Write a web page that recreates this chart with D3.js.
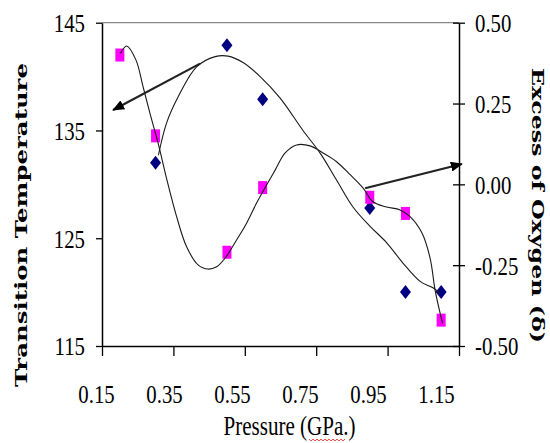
<!DOCTYPE html>
<html>
<head>
<meta charset="utf-8">
<script src="https://cdn.jsdelivr.net/npm/d3@7"></script>
<style>
  html, body { margin: 0; padding: 0; background: #fff; }
  svg { display: block; }
</style>
</head>
<body>
<svg id="chart" width="550" height="443"></svg>
<script>
// ---------- data ----------
const xTicks = [0.15, 0.35, 0.55, 0.75, 0.95, 1.15];
const leftTicks = [115, 125, 135, 145];
const rightTicks = [-0.5, -0.25, 0, 0.25, 0.5];

// Transition temperature (blue diamonds, left axis)
const tempPressure = [0.3, 0.5, 0.6, 0.9, 1.0, 1.1];
const temperature = [132.0, 142.9, 137.9, 127.8, 120.0, 120.0];

// Excess of oxygen (magenta squares, right axis)
const oxyPressure = [0.2, 0.3, 0.5, 0.6, 0.9, 1.0, 1.1];
const oxygen = [0.40, 0.15, -0.21, -0.01, -0.04, -0.09, -0.42];

// Smoothed guide curves
const tempFitP = [0.308, 0.331, 0.363, 0.415, 0.467, 0.503, 0.545, 0.593, 0.649, 0.713, 0.761, 0.807, 0.853, 0.901, 0.947, 0.993, 1.041, 1.077, 1.097];
const tempFitV = [132.7, 135.7, 138.1, 140.9, 141.85, 141.9, 141.3, 140.0, 138.0, 135.0, 132.9, 130.4, 127.9, 126.1, 124.6, 122.7, 121.0, 120.4, 119.9];
const oxyFitP = [0.202, 0.219, 0.245, 0.265, 0.284, 0.307, 0.332, 0.359, 0.387, 0.419, 0.447, 0.471, 0.495, 0.527, 0.555, 0.583, 0.611, 0.635, 0.663, 0.695, 0.733, 0.769, 0.807, 0.845, 0.881, 0.909, 0.947, 0.985, 1.013, 1.046, 1.069, 1.083, 1.097, 1.104];
const oxyFitV = [0.405, 0.428, 0.385, 0.302, 0.221, 0.128, 0.013, -0.100, -0.193, -0.249, -0.262, -0.255, -0.228, -0.172, -0.120, -0.058, -0.002, 0.044, 0.097, 0.122, 0.119, 0.097, 0.070, 0.030, -0.011, -0.054, -0.070, -0.079, -0.100, -0.150, -0.228, -0.327, -0.398, -0.429];

// Annotation arrows [pressure, value]
const arrowTemp = [[0.4245, 141.2], [0.181, 136.9]];   // points to left axis
const arrowOxy = [[0.887, -0.012], [1.158, 0.063]];    // points to right axis

// ---------- layout ----------
const W = 550, H = 443;
const plot = { left: 102, right: 459, top: 22.7, bottom: 346 };
const sx = 0.8; // horizontal squeeze of serif text

const svg = d3.select("#chart");

const x = d3.scaleLinear().domain([0.15, 1.15]).range([plot.left, plot.right]);
const xLabel = d3.scaleLinear().domain([0.15, 1.15]).range([96, 436]);
const yL = d3.scaleLinear().domain([115, 145]).range([plot.bottom, plot.top]);
const yR = d3.scaleLinear().domain([-0.5, 0.5]).range([plot.bottom, plot.top]);

// top frame line
svg.append("line")
  .attr("x1", plot.left).attr("x2", plot.right)
  .attr("y1", plot.top).attr("y2", plot.top)
  .attr("stroke", "#8a8a8a").attr("stroke-width", 1.2);

const tickFont = "'Liberation Serif', 'Times New Roman', serif";

// bottom axis
const gx = svg.append("g")
  .attr("transform", `translate(0,${plot.bottom})`)
  .call(d3.axisBottom(x).tickValues(xTicks).tickSize(10).tickSizeOuter(0).tickFormat(d3.format(".2f")));
gx.select(".domain").attr("stroke", "#000").attr("stroke-width", 1.5);
gx.selectAll(".tick line").attr("stroke", "#000").attr("stroke-width", 1.3);
gx.selectAll(".tick text")
  .attr("font-family", tickFont).attr("font-size", 26).attr("fill", "#000")
  .attr("y", 57).attr("dy", 0).attr("x", 0)
  .attr("transform", d => `translate(${xLabel(d) - x(d)},0) scale(${sx},1)`);

// left axis
const gl = svg.append("g")
  .attr("transform", `translate(${plot.left},0)`)
  .call(d3.axisLeft(yL).tickValues(leftTicks).tickSize(6).tickSizeOuter(0).tickFormat(d3.format("d")));
gl.select(".domain").attr("stroke", "#000").attr("stroke-width", 1.5);
gl.selectAll(".tick line").attr("stroke", "#000").attr("stroke-width", 1.3);
gl.selectAll(".tick text")
  .attr("font-family", tickFont).attr("font-size", 26).attr("fill", "#000")
  .attr("x", 0).attr("dy", "0.34em")
  .attr("transform", `translate(-17,0) scale(${sx},1)`);

// right axis
const gr = svg.append("g")
  .attr("transform", `translate(${plot.right},0)`)
  .call(d3.axisRight(yR).tickValues(rightTicks).tickSize(6).tickSizeOuter(0).tickFormat(d3.format(".2f")));
gr.select(".domain").attr("stroke", "#000").attr("stroke-width", 1.5);
gr.selectAll(".tick line").attr("x1", -6).attr("x2", 6).attr("stroke", "#000").attr("stroke-width", 1.3);
gr.selectAll(".tick text")
  .text(d => d3.format(".2f")(d).replace("−", "-"))
  .attr("font-family", tickFont).attr("font-size", 26).attr("fill", "#000")
  .attr("x", 0).attr("dy", "0.34em").attr("text-anchor", "start")
  .attr("transform", `translate(16,0) scale(${sx},1)`);

// markers: diamonds
svg.append("g").selectAll("path")
  .data(tempPressure.map((p, i) => [p, temperature[i]]))
  .join("path")
  .attr("d", "M0,-7L5.5,0L0,7L-5.5,0Z")
  .attr("transform", d => `translate(${x(d[0])},${yL(d[1])})`)
  .attr("fill", "#000080");

// markers: squares
svg.append("g").selectAll("rect")
  .data(oxyPressure.map((p, i) => [p, oxygen[i]]))
  .join("rect")
  .attr("x", d => x(d[0]) - 4.5).attr("y", d => yR(d[1]) - 6.5)
  .attr("width", 9).attr("height", 13)
  .attr("fill", "#ff00ff");

// guide curves
const lineT = d3.line().x(d => x(d[0])).y(d => yL(d[1])).curve(d3.curveCatmullRom.alpha(0.5));
const lineO = d3.line().x(d => x(d[0])).y(d => yR(d[1])).curve(d3.curveCatmullRom.alpha(0.5));
svg.append("path")
  .datum(tempFitP.map((p, i) => [p, tempFitV[i]]))
  .attr("d", lineT).attr("fill", "none").attr("stroke", "#1a1a1a").attr("stroke-width", 1.1);
svg.append("path")
  .datum(oxyFitP.map((p, i) => [p, oxyFitV[i]]))
  .attr("d", lineO).attr("fill", "none").attr("stroke", "#1a1a1a").attr("stroke-width", 1.1);

// arrows
const defs = svg.append("defs");
defs.append("marker")
  .attr("id", "ah").attr("viewBox", "0 0 12 10")
  .attr("refX", 11).attr("refY", 5)
  .attr("markerWidth", 12).attr("markerHeight", 10)
  .attr("markerUnits", "userSpaceOnUse")
  .attr("orient", "auto")
  .append("path").attr("d", "M0,0L12,5L0,10Z").attr("fill", "#000");

function arrow(pts, yScale) {
  const [a, b] = pts;
  const x1 = x(a[0]), y1 = yScale(a[1]), x2 = x(b[0]), y2 = yScale(b[1]);
  svg.append("line")
    .attr("x1", x1).attr("y1", y1).attr("x2", x2).attr("y2", y2)
    .attr("stroke", "#222").attr("stroke-width", 2.2)
    .attr("marker-end", "url(#ah)");
}
arrow(arrowTemp, yL);
arrow(arrowOxy, yR);

// axis titles
const titleFont = "'DejaVu Serif', serif";
svg.append("text")
  .attr("transform", `translate(27,225) rotate(-90)`)
  .attr("text-anchor", "middle")
  .attr("font-family", titleFont).attr("font-weight", "bold").attr("font-size", 16.5)
  .attr("textLength", 324).attr("lengthAdjust", "spacingAndGlyphs")
  .attr("fill", "#000")
  .text("Transition Temperature");

svg.append("text")
  .attr("transform", `translate(532,205.5) rotate(90)`)
  .attr("text-anchor", "middle")
  .attr("font-family", titleFont).attr("font-weight", "bold").attr("font-size", 16.5)
  .attr("textLength", 275).attr("lengthAdjust", "spacingAndGlyphs")
  .attr("fill", "#000")
  .text("Excess of Oxygen (δ)");

svg.append("text")
  .attr("transform", `translate(289.5,435) scale(0.78,1)`)
  .attr("text-anchor", "middle")
  .attr("font-family", tickFont).attr("font-size", 27)
  .attr("fill", "#000")
  .text("Pressure (GPa.)");

// spell-check squiggle under "GPa"
const sq = d3.range(0, 37, 2).map((d, i) => [309 + d, 440 + (i % 2 ? 1 : -1) * 0.8]);
svg.append("path")
  .attr("d", d3.line()(sq))
  .attr("fill", "none").attr("stroke", "#e0302a").attr("stroke-width", 0.9);
</script>
</body>
</html>
